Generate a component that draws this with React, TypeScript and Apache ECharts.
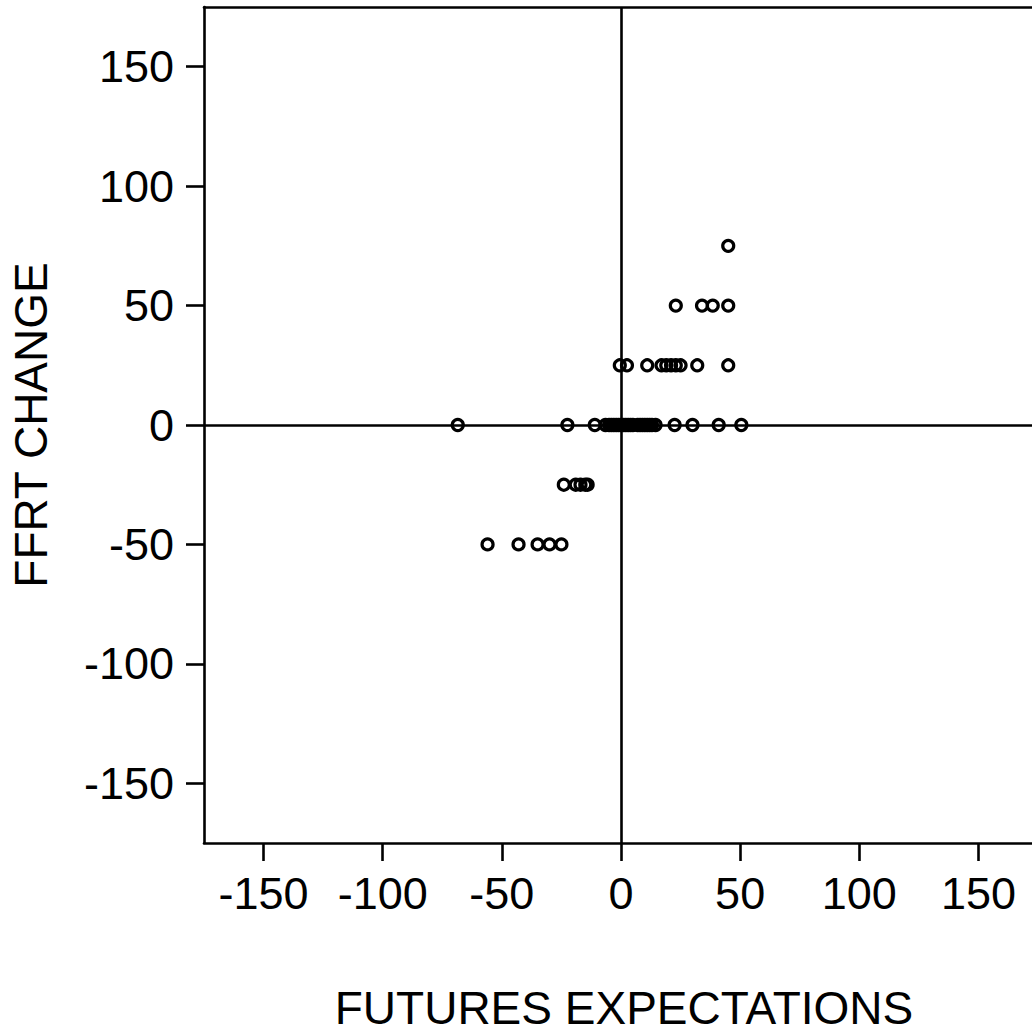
import React, { useEffect, useRef } from "react";
import * as echarts from "echarts";

// FFRT change levels (y) and the futures-expectation values (x) observed at each level
const ffrtLevels = [75, 50, 25, 0, -25, -50];
const futuresAt75 = [45];
const futuresAt50 = [23, 34, 38.5, 45];
const futuresAt25 = [-0.5, 2.5, 11, 17, 19, 21, 23, 25, 32, 45];
const futuresAt0 = [
  -68.5, -22.5, -11, -6.5, -5, -4, -3, -2, -1, 0, 1, 2, 3, 4, 5, 7, 8, 9, 10,
  11, 12, 13, 14.5, 22.5, 30, 41, 50.5,
];
const futuresAtM25 = [-24, -19, -17, -15, -14];
const futuresAtM50 = [-56, -43, -35, -30, -25];
const futuresByLevel = [
  futuresAt75,
  futuresAt50,
  futuresAt25,
  futuresAt0,
  futuresAtM25,
  futuresAtM50,
];
const tickValues = [-150, -100, -50, 0, 50, 100, 150];
const xTitle = "FUTURES EXPECTATIONS";
const yTitle = "FFRT CHANGE";

const FONT = "'Liberation Sans', Arial, sans-serif";

export default function App() {
  const ref = useRef<HTMLDivElement>(null);
  useEffect(() => {
    if (!ref.current) return;
    const chart = echarts.init(ref.current, undefined, { renderer: "svg" });
    const points: number[][] = [];
    ffrtLevels.forEach((lvl, i) => {
      futuresByLevel[i].forEach((x) => points.push([x, lvl]));
    });
    const lineStyle = { color: "#000", width: 2.6 };
    const axisCommon = {
      type: "value",
      min: -175,
      max: 175,
      splitLine: { show: false },
      axisLine: { show: true, onZero: false, lineStyle },
      axisTick: {
        show: true,
        inside: false,
        length: 18,
        customValues: tickValues,
        lineStyle,
      },
      axisLabel: {
        customValues: tickValues,
        fontFamily: FONT,
        fontSize: 45,
        color: "#000",
      },
      nameLocation: "middle",
    };
    chart.setOption({
      animation: false,
      backgroundColor: "#fff",
      grid: {
        left: 204,
        top: 7,
        width: 834,
        height: 836,
        show: false,
        outerBoundsMode: "none",
        containLabel: false,
      },
      xAxis: [
        {
          ...axisCommon,
          position: "bottom",
          name: xTitle,
          nameGap: 142,
          nameTextStyle: {
            fontFamily: FONT,
            fontSize: 46,
            color: "#000",
            padding: [0, 0, 0, 6],
          },
          axisLabel: { ...axisCommon.axisLabel, margin: 28 },
        },
        {
          type: "value",
          min: -175,
          max: 175,
          position: "top",
          splitLine: { show: false },
          axisLine: { show: true, onZero: false, lineStyle },
          axisTick: { show: false },
          axisLabel: { show: false },
        },
      ],
      yAxis: {
        ...axisCommon,
        position: "left",
        name: yTitle,
        nameGap: 150,
        nameTextStyle: { fontFamily: FONT, fontSize: 46, color: "#000" },
        axisLabel: { ...axisCommon.axisLabel, margin: 30 },
      },
      series: [
        {
          type: "scatter",
          xAxisIndex: 0,
          yAxisIndex: 0,
          data: points,
          symbol: "circle",
          symbolSize: 11,
          itemStyle: {
            color: "rgba(0,0,0,0)",
            borderColor: "#000",
            borderWidth: 3.2,
            opacity: 1,
          },
          markLine: {
            silent: true,
            symbol: "none",
            label: { show: false },
            lineStyle: { color: "#000", width: 2.6, type: "solid" },
            data: [{ xAxis: 0 }, { yAxis: 0 }],
          },
        },
      ],
    });
    return () => chart.dispose();
  }, []);
  return (
    <div
      ref={ref}
      style={{ position: "fixed", left: 0, top: 0, width: 1032, height: 1034, background: "#fff" }}
    />
  );
}
